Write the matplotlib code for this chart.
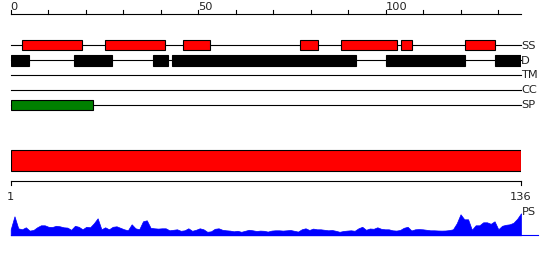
import matplotlib
matplotlib.use("Agg")
import matplotlib.pyplot as plt
import numpy as np

# ---- data ----
seq_length = 136
ruler_ticks = list(range(0, 137, 10))
ruler_labels = [0, 50, 100]

track_names = ["SS", "D", "TM", "CC", "SP"]
ss_segments = [(3, 19), (25, 41), (46, 53), (77, 82), (88, 103), (104, 107), (121, 129)]
d_segments = [(0, 5), (17, 27), (38, 42), (43, 92), (100, 121), (129, 136)]
tm_segments = []
cc_segments = []
sp_segments = [(0, 22)]

domain_start = 1
domain_end = 136

ps_scores = [
    6, 19, 7, 6, 8, 4.7, 5.3, 8, 10, 10,
    8.5, 8.3, 9.5, 9, 8, 7.7, 5.5, 9.5, 8.5, 6,
    8.5, 8, 12, 17, 6, 8, 6, 8.5, 9, 7.5,
    6, 5, 11, 7, 6, 14, 15, 7.5, 7, 6.7,
    7, 7, 5, 5.5, 6, 4.5, 5, 7, 4.5, 5.5,
    7, 6, 3.5, 4, 6.5, 7, 5.5, 5, 4.7, 4,
    4.5, 3.5, 4.5, 5.5, 5, 4.3, 4.7, 4.5, 3.7,
    4.7, 5, 5, 4.7, 5, 5.3, 4.5, 3.7, 6, 7,
    5.3, 6.7, 6, 6, 5.5, 5, 5.3, 4.5, 3.5, 4.3,
    4.7, 5, 4.5, 7, 8.5, 5.5, 6.8, 6.5, 8, 6.5,
    6, 6, 5, 4.7, 5.3, 7.5, 8.5, 4.8, 6, 6.2,
    6, 5.5, 5, 5, 4.8, 4.7, 4.8, 5.2, 6, 12,
    21, 16, 16, 5.5, 10, 10, 13, 13, 11.5, 14,
    6, 9.5, 10.5, 11, 12.5, 16.5, 22,
]
ps_positions = np.arange(1, len(ps_scores) + 1)

# ---- layout (pixels) ----
W, H = 550, 260
X0, X1 = 10.7, 521.0
fig = plt.figure(figsize=(W / 100, H / 100), dpi=100)
TXT = "#222222"
FS = 8.2
LW = 0.8

# main axes: x in residues 0..136, y in pixel rows (top = 0)
ax = fig.add_axes([X0 / W, 0, (X1 - X0) / W, 1])
ax.set_xlim(0, seq_length)
ax.set_ylim(H, 0)
ax.axis("off")

# top ruler
ax.plot([0, seq_length], [14, 14], color="black", lw=LW, clip_on=False)
for t in ruler_ticks:
    ax.plot([t, t], [10, 14], color="black", lw=LW, clip_on=False)
for t in ruler_labels:
    ax.text(t, 10.3, str(t), ha="left", va="baseline", fontsize=FS, color=TXT)

# tracks
track_y = {"SS": 45.3, "D": 60.3, "TM": 75, "CC": 90, "SP": 105}
track_data = {"SS": ss_segments, "D": d_segments, "TM": tm_segments,
              "CC": cc_segments, "SP": sp_segments}
track_color = {"SS": "#ff0000", "D": "#000000", "TM": "#000000",
               "CC": "#000000", "SP": "#008000"}
track_h = {"SS": 10, "D": 10.5, "TM": 10, "CC": 10, "SP": 10}
for name in track_names:
    y = track_y[name]
    ax.plot([0, seq_length], [y, y], color="black", lw=LW, clip_on=False, zorder=1)
    segs = track_data[name]
    if segs:
        lefts = [s for s, e in segs]
        widths = [e - s for s, e in segs]
        ax.barh([y] * len(segs), widths, left=lefts, height=track_h[name],
                color=track_color[name], edgecolor="black", linewidth=LW, zorder=2)
    ax.text(seq_length, y + 0.3, name, ha="left", va="center", fontsize=FS,
            color=TXT, clip_on=False)

# domain axes: x in residues 1..136
dax = fig.add_axes([X0 / W, 0, (X1 - X0) / W, 1])
dax.set_xlim(domain_start, domain_end)
dax.set_ylim(H, 0)
dax.axis("off")
dax.barh([160.3], [domain_end - domain_start], left=[domain_start], height=20.5,
         color="#ff0000", edgecolor="black", linewidth=LW)
dax.plot([domain_start, domain_end], [180.7, 180.7], color="black", lw=LW, clip_on=False)
for t in (domain_start, domain_end):
    dax.plot([t, t], [180.7, 185], color="black", lw=LW, clip_on=False)
    dax.text(t, 199.8, str(t), ha="center", va="baseline", fontsize=FS, color=TXT)

# PS area axes
base_px = 235.3
pax = fig.add_axes([X0 / W, (H - base_px) / H, (X1 - X0) / W, 22 / H])
pax.set_xlim(domain_start, domain_end)
pax.set_ylim(0, 22)
pax.axis("off")
pax.fill_between(ps_positions, 0, ps_scores, facecolor="#0000ff",
                 edgecolor="#0000ff", lw=0.5, clip_on=False)
pax.plot([domain_start, domain_end + 4.4], [0, 0], color="#0000ff", lw=LW, clip_on=False)
pax.text(domain_end + 0.2, 23.5, "PS", ha="left", va="center", fontsize=FS,
         color=TXT, clip_on=False)

fig.savefig("out.png", dpi=100)
